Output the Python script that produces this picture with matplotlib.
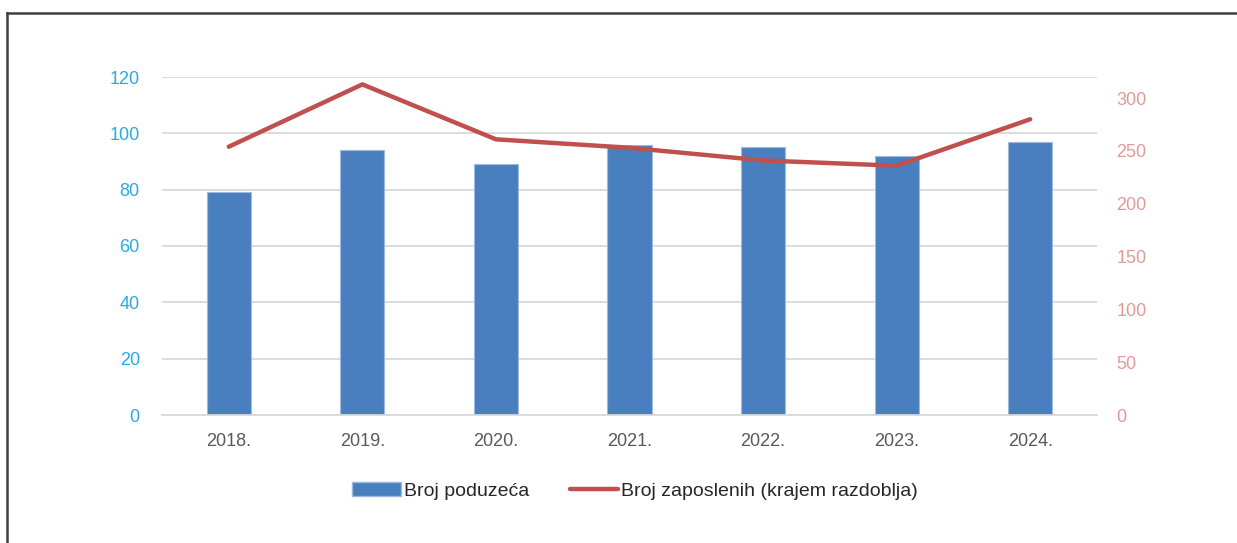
import numpy as np
import matplotlib.pyplot as plt
from matplotlib.lines import Line2D
from matplotlib.patches import Patch

plt.rcParams['font.family'] = ['Liberation Sans', 'DejaVu Sans']

godine = ['2018.', '2019.', '2020.', '2021.', '2022.', '2023.', '2024.']
broj_poduzeca = [79, 94, 89, 96, 95, 92, 97]
broj_zaposlenih = [254, 313, 261, 253, 241, 236, 280]

plava = '#4A7FBF'
crvena = '#C0504D'
siva = '#595959'

fig = plt.figure(figsize=(12.37, 5.43), dpi=100)
ax = fig.add_axes([162/1237, 1-415/543, (1097-162)/1237, (415-77)/543])
x = np.arange(len(godine))

ax.bar(x, broj_poduzeca, width=0.33, color=plava, edgecolor='#9DB9DD', linewidth=0.8, zorder=2)
ax.set_ylim(0, 120)
ax.set_yticks(range(0, 121, 20))
ax.set_xlim(-0.5, len(godine) - 0.5)
ax.set_xticks(x)
ax.set_xticklabels(godine)
ax.grid(axis='y', color='#D9D9D9', linewidth=1.3, zorder=0)
ax.set_axisbelow(True)
for s in ['top', 'right', 'left']:
    ax.spines[s].set_visible(False)
ax.spines['bottom'].set_color('#D9D9D9')
ax.spines['bottom'].set_linewidth(1.3)
ax.tick_params(axis='y', length=0, pad=16, labelsize=13, labelcolor='#2BA9E2')
ax.tick_params(axis='x', length=0, pad=13, labelsize=13, labelcolor=siva)

ax2 = ax.twinx()
ax2.plot(x, broj_zaposlenih, color=crvena, linewidth=3.2, solid_capstyle='round', zorder=3)
ax2.set_ylim(0, 320)
ax2.set_yticks(range(0, 301, 50))
for s in ax2.spines.values():
    s.set_visible(False)
ax2.tick_params(axis='y', length=0, pad=14, labelsize=13, labelcolor='#E09A98')

# legenda ispod grafa
ruc = [Patch(facecolor=plava, edgecolor='#9DB9DD'),
       Line2D([0], [0], color=crvena, linewidth=3.2, solid_capstyle='round')]
fig.legend(ruc, ['Broj poduzeća', 'Broj zaposlenih (krajem razdoblja)'],
           loc='center', bbox_to_anchor=(635/1237, 1-491/543), ncol=2, frameon=False,
           fontsize=14, labelcolor='#262626', handlelength=2.5, handletextpad=0.15,
           columnspacing=2.1)

# okvir
fig.add_artist(Line2D([7/1237, 1.0], [1-13/543, 1-13/543], transform=fig.transFigure,
                      color='#404040', linewidth=1.8))
fig.add_artist(Line2D([7/1237, 7/1237], [0.0, 1-13/543], transform=fig.transFigure,
                      color='#404040', linewidth=1.8))

fig.savefig('out.png', dpi=100)
